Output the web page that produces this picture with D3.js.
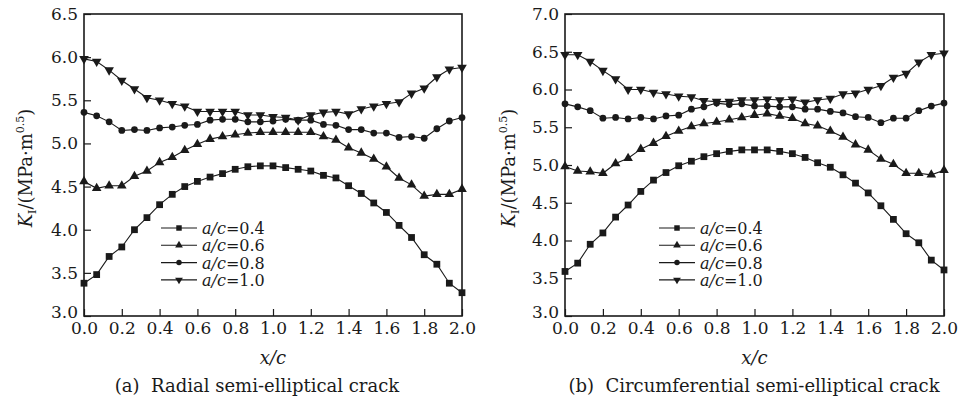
<!DOCTYPE html>
<html>
<head>
<meta charset="utf-8">
<script src="https://cdn.jsdelivr.net/npm/d3@7"></script>
<style>
  body { margin: 0; background: #fff; }
  svg text { font-family: "DejaVu Serif", serif; fill: #1a1a1a; }
</style>
</head>
<body>
<svg id="chart" width="958" height="400"></svg>
<script>
// x/c positions (31 stations along the crack front)
const xStations = [0, 0.067, 0.133, 0.2, 0.267, 0.333, 0.4, 0.467, 0.533, 0.6,
  0.667, 0.733, 0.8, 0.867, 0.933, 1.0, 1.067, 1.133, 1.2, 1.267,
  1.333, 1.4, 1.467, 1.533, 1.6, 1.667, 1.733, 1.8, 1.867, 1.933, 2.0];

const ratioLabels = ["0.4", "0.6", "0.8", "1.0"];

// (a) radial semi-elliptical crack
const radial04 = [3.38, 3.48, 3.69, 3.80, 4.00, 4.14, 4.29, 4.41, 4.50, 4.56, 4.61, 4.65, 4.70, 4.73, 4.74, 4.74,
  4.72, 4.70, 4.68, 4.63, 4.60, 4.51, 4.42, 4.31, 4.20, 4.05, 3.91, 3.71, 3.60, 3.38, 3.27];
const radial06 = [4.56, 4.48, 4.51, 4.51, 4.62, 4.68, 4.78, 4.84, 4.92, 4.99, 5.05, 5.08, 5.10, 5.12, 5.13, 5.13,
  5.13, 5.13, 5.13, 5.08, 5.04, 4.95, 4.89, 4.82, 4.73, 4.60, 4.52, 4.39, 4.41, 4.41, 4.47];
const radial08 = [5.36, 5.32, 5.25, 5.15, 5.16, 5.15, 5.18, 5.19, 5.21, 5.22, 5.27, 5.28, 5.28, 5.25, 5.25, 5.26,
  5.28, 5.27, 5.27, 5.22, 5.21, 5.16, 5.16, 5.12, 5.12, 5.07, 5.08, 5.06, 5.17, 5.26, 5.30];
const radial10 = [5.98, 5.95, 5.85, 5.73, 5.63, 5.53, 5.50, 5.46, 5.43, 5.37, 5.37, 5.37, 5.37, 5.33, 5.33, 5.31,
  5.30, 5.27, 5.33, 5.36, 5.37, 5.34, 5.40, 5.43, 5.46, 5.48, 5.58, 5.64, 5.77, 5.86, 5.88];

// (b) circumferential semi-elliptical crack
const circ04 = [3.59, 3.70, 3.95, 4.10, 4.31, 4.47, 4.65, 4.80, 4.90, 4.99, 5.05, 5.11, 5.15, 5.18, 5.20, 5.20,
  5.20, 5.18, 5.15, 5.10, 5.03, 4.97, 4.87, 4.76, 4.63, 4.46, 4.28, 4.09, 3.97, 3.74, 3.61];
const circ06 = [4.98, 4.92, 4.91, 4.89, 5.02, 5.09, 5.21, 5.29, 5.38, 5.45, 5.51, 5.55, 5.57, 5.60, 5.63, 5.66,
  5.68, 5.65, 5.62, 5.55, 5.52, 5.45, 5.37, 5.27, 5.20, 5.08, 5.01, 4.89, 4.89, 4.87, 4.93];
const circ08 = [5.81, 5.77, 5.72, 5.62, 5.63, 5.61, 5.63, 5.61, 5.65, 5.66, 5.74, 5.77, 5.82, 5.80, 5.81, 5.78,
  5.78, 5.77, 5.77, 5.74, 5.74, 5.71, 5.69, 5.64, 5.63, 5.56, 5.62, 5.62, 5.72, 5.78, 5.82];
const circ10 = [6.46, 6.46, 6.37, 6.25, 6.14, 6.00, 6.00, 5.96, 5.94, 5.91, 5.90, 5.85, 5.84, 5.84, 5.86, 5.86,
  5.87, 5.86, 5.87, 5.83, 5.86, 5.88, 5.94, 5.95, 6.00, 6.05, 6.16, 6.21, 6.36, 6.46, 6.48];

const xTicks = [0, 0.2, 0.4, 0.6, 0.8, 1.0, 1.2, 1.4, 1.6, 1.8, 2.0];
const yTicksA = [3.0, 3.5, 4.0, 4.5, 5.0, 5.5, 6.0, 6.5];
const yTicksB = [3.0, 3.5, 4.0, 4.5, 5.0, 5.5, 6.0, 6.5, 7.0];

// layout of the two panels
const panels = [
  { left: 84, right: 462, yMax: 6.5, yTicks: yTicksA, series: [radial04, radial06, radial08, radial10],
    caption: "(a)  Radial semi-elliptical crack", captionX: 257, legendX: 161, yLabelX: 32 },
  { left: 565, right: 944, yMax: 7.0, yTicks: yTicksB, series: [circ04, circ06, circ08, circ10],
    caption: "(b)  Circumferential semi-elliptical crack", captionX: 754, legendX: 659, yLabelX: 515 }
];
const plotTop = 14, plotBottom = 316;
const ink = "#1a1a1a";

// marker shapes: square, up triangle, circle, down triangle
const markers = [
  { type: d3.symbolSquare, size: 46, rot: 0 },
  { type: d3.symbolTriangle, size: 40, rot: 0 },
  { type: d3.symbolCircle, size: 36, rot: 0 },
  { type: d3.symbolTriangle, size: 40, rot: 180 }
];

const svg = d3.select("#chart");

panels.forEach(p => {
  const x = d3.scaleLinear().domain([0, 2]).range([p.left, p.right]);
  const y = d3.scaleLinear().domain([3, p.yMax]).range([plotBottom, plotTop]);
  const g = svg.append("g");

  // ejes
  const xAxis = d3.axisBottom(x).tickValues(xTicks).tickFormat(d3.format(".1f"))
    .tickSizeInner(-7).tickSizeOuter(0).tickPadding(6);
  const gx = g.append("g").attr("transform", `translate(0,${plotBottom})`).call(xAxis);
  const yAxis = d3.axisLeft(y).tickValues(p.yTicks).tickFormat(d3.format(".1f"))
    .tickSizeInner(-7).tickSizeOuter(0).tickPadding(6);
  const gy = g.append("g").attr("transform", `translate(${p.left},0)`).call(yAxis);
  [gx, gy].forEach(a => {
    a.select(".domain").remove();
    a.selectAll(".tick line").attr("stroke", ink).attr("stroke-width", 1.2);
    a.selectAll(".tick text").attr("font-size", 17).attr("fill", ink)
      .attr("font-family", "DejaVu Serif");
  });
  // lift the bottom y label so it clears the 0.0 x label
  gy.selectAll(".tick text").filter(d => d === 3).attr("dy", "0.1em");

  // frame
  g.append("rect")
    .attr("x", p.left).attr("y", plotTop)
    .attr("width", p.right - p.left).attr("height", plotBottom - plotTop)
    .attr("fill", "none").attr("stroke", ink).attr("stroke-width", 1.6);

  // lines + markers
  const line = d3.line().x((d, i) => x(xStations[i])).y(d => y(d));
  p.series.forEach((vals, s) => {
    g.append("path").datum(vals).attr("d", line)
      .attr("fill", "none").attr("stroke", ink).attr("stroke-width", 1.1);
    const m = markers[s];
    g.selectAll(null).data(vals).enter().append("path")
      .attr("d", d3.symbol(m.type, m.size))
      .attr("transform", (d, i) => `translate(${x(xStations[i])},${y(d)}) rotate(${m.rot})`)
      .attr("fill", ink);
  });

  // legend
  const legendTop = 228, rowGap = 17.3;
  ratioLabels.forEach((lab, s) => {
    const ly = legendTop + s * rowGap;
    g.append("line").attr("x1", p.legendX).attr("x2", p.legendX + 36)
      .attr("y1", ly).attr("y2", ly).attr("stroke", ink).attr("stroke-width", 1.1);
    const m = markers[s];
    g.append("path").attr("d", d3.symbol(m.type, m.size * 0.65))
      .attr("transform", `translate(${p.legendX + 18},${ly}) rotate(${m.rot})`)
      .attr("fill", ink);
    const t = g.append("text").attr("x", p.legendX + 41).attr("y", ly + 6).attr("font-size", 16);
    t.append("tspan").attr("font-style", "italic").text("a/c");
    t.append("tspan").text("=" + lab);
  });

  // axis titles
  g.append("text").attr("x", (p.left + p.right) / 2).attr("y", 364)
    .attr("text-anchor", "middle").attr("font-size", 18).attr("font-style", "italic").text("x/c");

  const yt = g.append("text")
    .attr("transform", `translate(${p.yLabelX},168) rotate(-90)`)
    .attr("text-anchor", "middle").attr("font-size", 18);
  yt.append("tspan").attr("font-style", "italic").text("K");
  yt.append("tspan").attr("font-size", 11).attr("dy", 4).text("I");
  yt.append("tspan").attr("dy", -4).text("/(MPa·m");
  yt.append("tspan").attr("font-size", 11).attr("dy", -8).text("0.5");
  yt.append("tspan").attr("dy", 8).text(")");

  // caption
  g.append("text").attr("x", p.captionX).attr("y", 392).attr("text-anchor", "middle")
    .attr("font-size", 18).style("white-space", "pre").text(p.caption);
});
</script>
</body>
</html>
